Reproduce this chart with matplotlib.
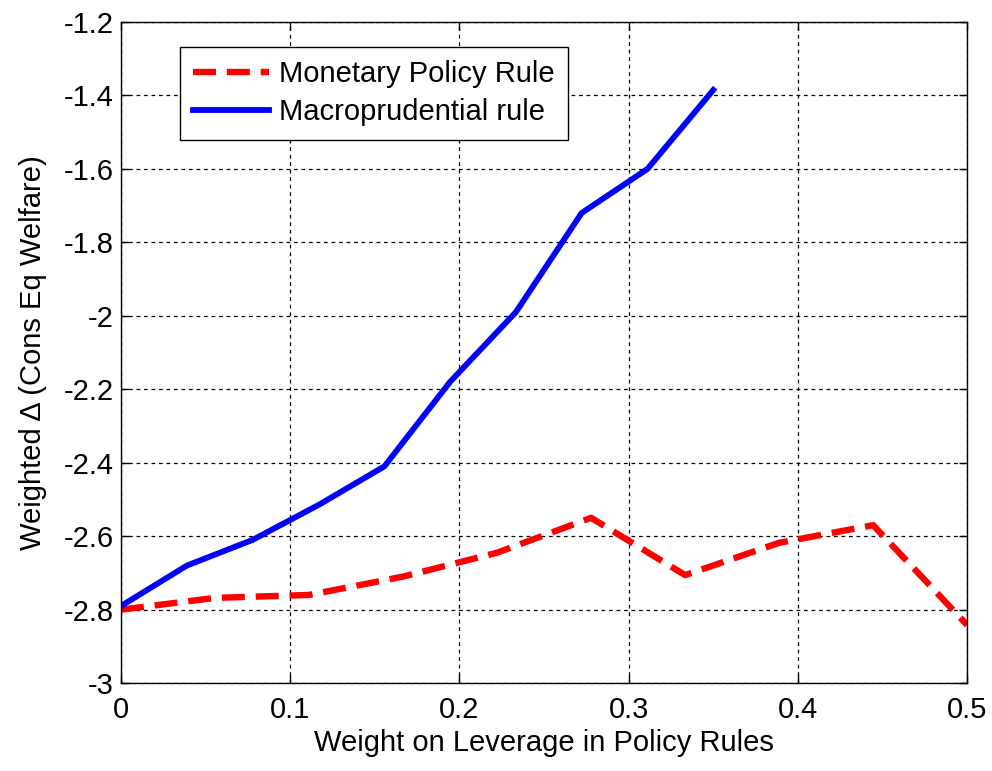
import numpy as np
import matplotlib
matplotlib.use("Agg")
import matplotlib.pyplot as plt

# ------------------------------------
# DATA
# ------------------------------------
weight_monetary = [0, 1/18, 2/18, 3/18, 4/18, 5/18, 6/18, 7/18, 8/18, 9/18]
welfare_monetary = [-2.80, -2.768, -2.76, -2.71, -2.645, -2.55, -2.706, -2.618, -2.57, -2.842]

weight_macro = [0, 0.0389, 0.0778, 0.1167, 0.1556, 0.1944, 0.2333, 0.2722, 0.3111, 0.35]
welfare_macro = [-2.79, -2.68, -2.61, -2.515, -2.41, -2.18, -1.99, -1.72, -1.60, -1.385]

x_ticks = [0, 0.1, 0.2, 0.3, 0.4, 0.5]
y_ticks = [-3, -2.8, -2.6, -2.4, -2.2, -2, -1.8, -1.6, -1.4, -1.2]

plt.rcParams["font.family"] = ["Liberation Sans", "DejaVu Sans"]

fig = plt.figure(figsize=(9.92, 7.71), dpi=100)
ax = fig.add_axes([0.122, 0.114, 0.853, 0.8575])

ax.plot(weight_monetary, welfare_monetary, color="red", lw=4.6,
        dashes=(3.6, 1.7), label="Monetary Policy Rule")
ax.plot(weight_macro, welfare_macro, color="blue", lw=4.2,
        label="Macroprudential rule")

ax.set_xlim(0, 0.5)
ax.set_ylim(-3, -1.2)
ax.set_xticks(x_ticks)
ax.set_yticks(y_ticks)
ax.set_xticklabels([f"{t:g}" for t in x_ticks])
ax.set_yticklabels([f"{t:g}" for t in y_ticks])

ax.grid(True, color="black", linestyle=(0, (3, 3)), linewidth=0.9)
ax.tick_params(direction="in", top=True, right=True, length=6,
               labelsize=21, width=1)
ax.tick_params(axis="x", pad=9)
ax.tick_params(axis="y", pad=5)
for sp in ax.spines.values():
    sp.set_linewidth(1)

ax.set_xlabel("Weight on Leverage in Policy Rules", fontsize=21, labelpad=4)
ax.set_ylabel("Weighted \u0394 (Cons Eq Welfare)", fontsize=21, labelpad=12)

leg = ax.legend(loc="upper left", bbox_to_anchor=(0.07, 0.962), fontsize=21,
                fancybox=False, edgecolor="black", framealpha=1,
                handlelength=2.6, handletextpad=0.35, borderpad=0.45,
                labelspacing=0.35, borderaxespad=0)
leg.get_frame().set_linewidth(1)

fig.savefig("out.png", dpi=100)
